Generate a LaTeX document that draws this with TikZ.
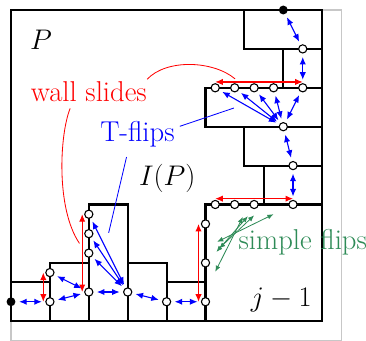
\documentclass[tikz,border=0pt]{standalone}
\usepackage{xcolor}
\usepackage{tikz}
\usetikzlibrary{arrows.meta}
\definecolor{flipgreen}{RGB}{46,139,87}
\tikzset{
  wall/.style={line width=1.5pt},
  frame/.style={draw=black!22, line width=1pt},
  vtx/.style={circle, draw, fill=white, line width=0.8pt, minimum size=6pt, inner sep=0pt},
  blk/.style={circle, fill=black, minimum size=6.5pt, inner sep=0pt},
  tflip/.style={{Latex[length=5.5pt,width=4.6pt]}-{Latex[length=5.5pt,width=4.6pt]}, blue, line width=0.8pt, shorten <=2.5pt, shorten >=2.5pt},
  slide/.style={{Latex[length=5.5pt,width=4.6pt]}-{Latex[length=5.5pt,width=4.6pt]}, red, line width=0.8pt},
  simple/.style={{Latex[length=4.5pt,width=3.6pt]}-{Latex[length=4.5pt,width=3.6pt]}, flipgreen, line width=0.6pt},
  pointer/.style={line width=0.6pt},
  lbl/.style={font=\fontsize{21}{25}\selectfont, inner sep=0pt}
}

\begin{document}
\begin{tikzpicture}
    \useasboundingbox (-0.283,-0.484) rectangle (9.126,8.257);
    \draw[frame] (0,-0.5) rectangle (8.5,8);

    \draw[wall] (0,0) rectangle (8,8);
    \draw[wall] (0,1) -- (1,1);
    \draw[wall] (1,0) -- (1,1.5) -- (2,1.5);
    \draw[wall] (2,0) -- (2,3) -- (3,3) -- (3,0);
    \draw[wall] (3,1.5) -- (4,1.5) -- (4,0);
    \draw[wall] (4,1) -- (5,1);
    \draw[wall] (5,0) -- (5,3) -- (8,3);
    \draw[wall] (6.5,3) -- (6.5,4);
    \draw[wall] (6,5) -- (6,4) -- (8,4);
    \draw[wall] (8,5) -- (5,5) -- (5,6) -- (8,6);
    \draw[wall] (7,6) -- (7,7);
    \draw[wall] (6,8) -- (6,7) -- (8,7);

    \node[blk] (b0) at (0,0.5) {};
    \node[vtx] (a1) at (1,0.5) {};
    \node[vtx] (a2) at (1,1.25) {};
    \node[vtx] (c0) at (2,0.75) {};
    \node[vtx] (c1) at (2,1.75) {};
    \node[vtx] (c2) at (2,2.25) {};
    \node[vtx] (c3) at (2,2.75) {};
    \node[vtx] (d0) at (3,0.75) {};
    \node[vtx] (e0) at (4,0.5) {};
    \node[vtx] (f0) at (5,0.5) {};
    \node[vtx] (f1) at (5,1.5) {};
    \node[vtx] (f2) at (5,2.5) {};
    \node[vtx] (g1) at (5.25,3) {};
    \node[vtx] (g2) at (5.75,3) {};
    \node[vtx] (g3) at (6.25,3) {};
    \node[vtx] (g4) at (7.25,3) {};
    \node[vtx] (h0) at (7.25,4) {};
    \node[vtx] (k0) at (7,5) {};
    \node[vtx] (m1) at (5.25,6) {};
    \node[vtx] (m2) at (5.75,6) {};
    \node[vtx] (m3) at (6.25,6) {};
    \node[vtx] (m4) at (6.75,6) {};
    \node[vtx] (m5) at (7.5,6) {};
    \node[vtx] (n0) at (7.5,7) {};
    \node[blk] (t0) at (7,8) {};

    \node[lbl] (plabel) at (0.77,7.24) {$P$};
    \node[lbl] (iplabel) at (4.02,3.68) {$I(P)$};
    \node[lbl] (jlabel) at (6.95,0.54) {$j-1$};
    \node[lbl, red] (wall) at (2.0,5.91) {wall slides};
    \node[lbl, blue] (tfl) at (3.25,4.81) {T-flips};
    \node[lbl, flipgreen] (smp) at (7.5,2.03) {simple flips};

    \draw[tflip] (b0) -- (a1);
    \draw[tflip] (a1) -- (c0);
    \draw[tflip] (a2) -- (c0);
    \draw[tflip] (c0) -- (d0);
    \foreach \v in {c1,c2,c3}
        \draw[tflip] (d0) -- (\v);
    \draw[tflip] (d0) -- (e0);
    \draw[tflip] (e0) -- (f0);
    \draw[tflip] (g4) -- (h0);
    \draw[tflip] (h0) -- (k0);
    \foreach \v in {m1,m2,m3,m4,m5}
        \draw[tflip] (k0) -- (\v);
    \draw[tflip] (m5) -- (n0);
    \draw[tflip] (n0) -- (t0);

    \draw[slide] ([xshift=-0.17cm]a2.center) -- ([xshift=-0.17cm]a1.center);
    \draw[slide] ([xshift=-0.17cm]c3.center) -- ([xshift=-0.17cm]c0.center);
    \draw[slide] ([xshift=-0.18cm]f2.center) -- ([xshift=-0.18cm]f0.center);
    \draw[slide] ([yshift=0.15cm]g1.center) -- ([yshift=0.15cm]g4.center);
    \draw[slide] ([yshift=0.15cm]m1.center) -- ([yshift=0.15cm]m5.center);

    \coordinate (wa) at (3.5,6.22);
    \coordinate (wb) at (5.76,6.23);
    \coordinate (wc) at (1.52,5.47);
    \coordinate (wd) at (1.76,2.0);
    \draw[pointer, red] (wa) .. controls (4.0,6.75) and (5.2,6.7) .. (wb);
    \draw[pointer, red] (wc) .. controls (1.25,4.8) and (1.15,2.9) .. (wd);

    \coordinate (ta) at (4.34,5.01);
    \coordinate (tb) at (5.73,5.48);
    \coordinate (tc) at (2.97,4.22);
    \coordinate (td) at (2.51,2.27);
    \draw[pointer, blue] (ta) -- (tb);
    \draw[pointer, blue] (tc) -- (td);

    \coordinate (s1a) at (5.25,1.27);
    \coordinate (s1b) at (5.96,2.68);
    \coordinate (s2a) at (5.28,1.78);
    \coordinate (s2b) at (6.09,2.70);
    \coordinate (s3a) at (5.35,1.87);
    \coordinate (s3b) at (6.25,2.72);
    \coordinate (s4a) at (5.30,2.04);
    \coordinate (s4b) at (6.75,2.75);
    \foreach \i in {1,2,3,4}
        \draw[simple] (s\i a) -- (s\i b);
\end{tikzpicture}
\end{document}
